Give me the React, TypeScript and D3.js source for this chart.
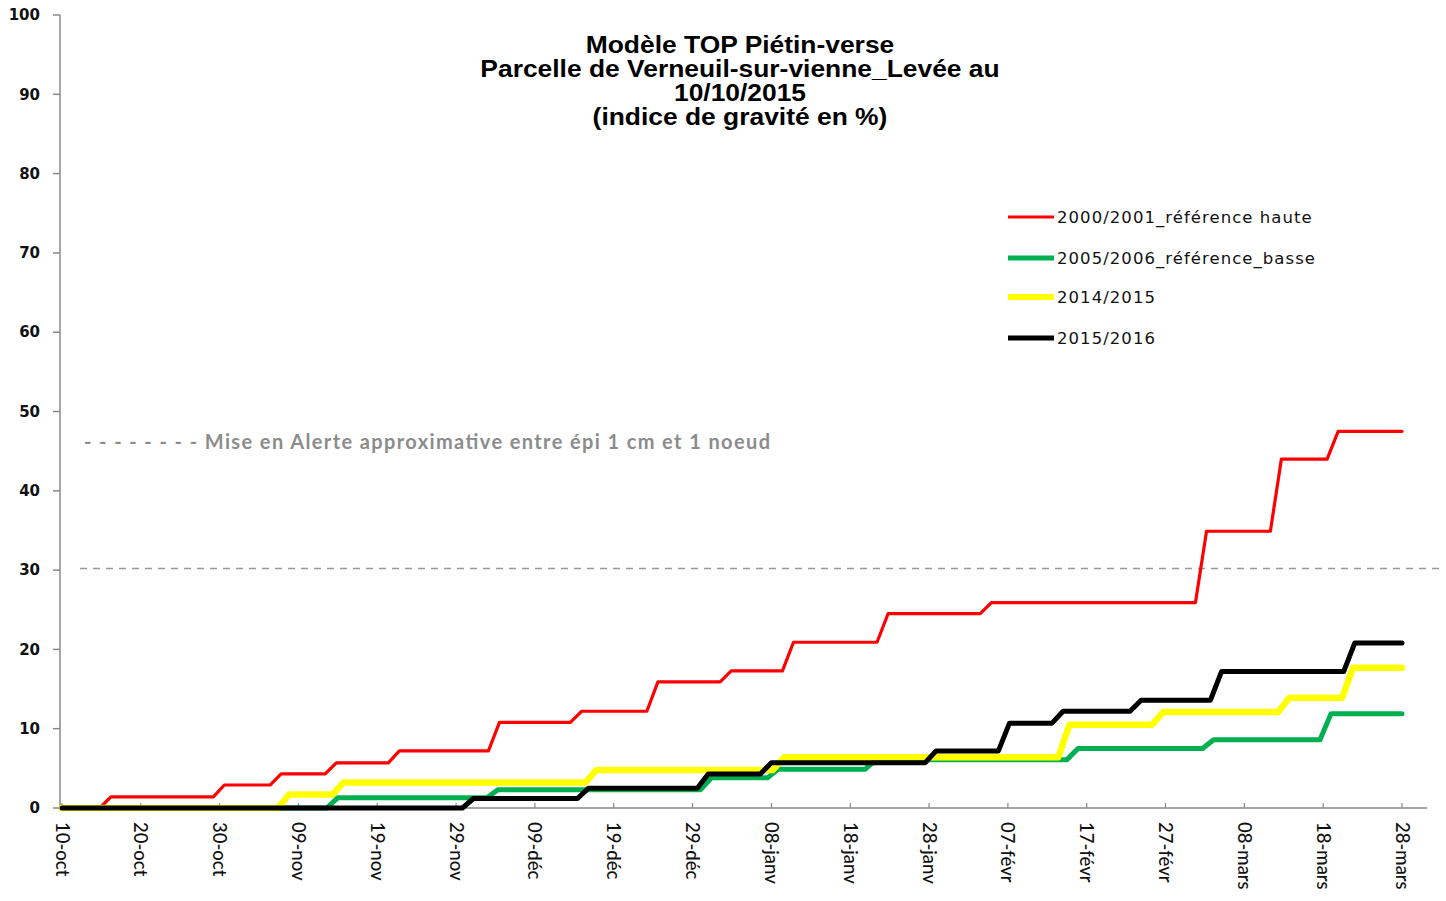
import React from "react";
import * as d3 from "d3";

const W = 1446;
const H = 901;

// Tick labels (every 10 days from 10-oct-2015 to 28-mars-2016)
const xTickLabels = [
  "10-oct", "20-oct", "30-oct", "09-nov", "19-nov", "29-nov", "09-déc", "19-déc", "29-déc",
  "08-janv", "18-janv", "28-janv", "07-févr", "17-févr", "27-févr", "08-mars", "18-mars", "28-mars",
];
const yTicks = [0, 10, 20, 30, 40, 50, 60, 70, 80, 90, 100];

const titleLines = [
  "Modèle TOP Piétin-verse",
  "Parcelle de Verneuil-sur-vienne_Levée au",
  "10/10/2015",
  "(indice de gravité en %)",
];

// Days since 10-oct at which each step begins, and the value reached after the step
const redStepDays = [4.8, 19.2, 26.4, 33.4, 41.4, 54.1, 64.5, 74.2, 83.5, 91.4, 103.4, 116.5, 143.8, 153.3, 160.5];
const redLevels = [1.4, 2.9, 4.3, 5.7, 7.2, 10.8, 12.2, 15.9, 17.3, 20.9, 24.5, 25.9, 34.9, 44.0, 47.5];

const greenStepDays = [33.6, 53.9, 81.0, 89.5, 101.9, 127.5, 144.7, 159.6];
const greenLevels = [1.3, 2.3, 3.8, 4.9, 6.1, 7.5, 8.6, 11.9];

const yellowStepDays = [27.4, 34.3, 66.4, 90.2, 126.4, 138.3, 154.3, 162.4];
const yellowLevels = [1.7, 3.2, 4.8, 6.4, 10.5, 12.1, 13.9, 17.7];

const blackStepDays = [50.8, 65.4, 80.6, 88.6, 109.5, 118.8, 125.6, 135.5, 145.7, 162.6];
const blackLevels = [1.2, 2.5, 4.3, 5.7, 7.2, 10.7, 12.2, 13.6, 17.2, 20.8];

const lastDay = 170;
const alertLevel = 30.2;

const seriesNames = [
  "2000/2001_référence haute",
  "2005/2006_référence_basse",
  "2014/2015",
  "2015/2016",
];

type Pt = [number, number];

function buildSteps(days: number[], levels: number[], ramp: number): Pt[] {
  const pts: Pt[] = [[0, 0]];
  let prev = 0;
  days.forEach((d, i) => {
    pts.push([d, prev]);
    pts.push([d + ramp, levels[i]]);
    prev = levels[i];
  });
  pts.push([lastDay, prev]);
  return pts;
}

export default function App() {
  const left = 60;
  const x0 = 62;
  const x1 = 1402;
  const yTop = 15;
  const yBottom = 808;
  const axisEnd = 1427;

  const x = d3.scaleLinear().domain([0, 170]).range([x0, x1]);
  const y = d3.scaleLinear().domain([0, 100]).range([yBottom, yTop]);

  const line = d3
    .line<Pt>()
    .x((d) => x(d[0]))
    .y((d) => y(d[1]));

  const series = [
    { name: seriesNames[0], color: "#ff0000", width: 3.2, legendWidth: 3, pts: buildSteps(redStepDays, redLevels, 1.4) },
    { name: seriesNames[1], color: "#00b050", width: 5, legendWidth: 5, pts: buildSteps(greenStepDays, greenLevels, 1.4) },
    { name: seriesNames[2], color: "#ffff00", width: 6.5, legendWidth: 6, pts: buildSteps(yellowStepDays, yellowLevels, 1.4) },
    { name: seriesNames[3], color: "#000000", width: 5, legendWidth: 5, pts: buildSteps(blackStepDays, blackLevels, 1.4) },
  ];

  const legendY = [217, 258, 297, 338];

  return (
    <svg
      width={W}
      height={H}
      style={{ position: "absolute", left: 0, top: 0, background: "#fff" }}
      xmlns="http://www.w3.org/2000/svg"
    >
      <rect x={0} y={0} width={W} height={H} fill="#fff" />

      {/* Title */}
      <g
        transform="translate(740,0) scale(1.1,1)"
        fontFamily="'Liberation Sans', Arial, sans-serif"
        fontWeight="bold"
        fontSize={24}
        fill="#000"
        textAnchor="middle"
      >
        {titleLines.map((t, i) => (
          <text key={i} x={0} y={53 + i * 24}>
            {t}
          </text>
        ))}
      </g>

      {/* Y axis */}
      <line x1={left} x2={left} y1={yTop} y2={yBottom} stroke="#888" strokeWidth={1.5} />
      {yTicks.map((v) => (
        <g key={v}>
          <line x1={left - 7} x2={left} y1={y(v)} y2={y(v)} stroke="#888" strokeWidth={1.5} />
          <text
            x={40}
            y={y(v)}
            dy="0.35em"
            textAnchor="end"
            fontFamily="'DejaVu Sans', Verdana, sans-serif"
            fontWeight="bold"
            fontSize={15}
            fill="#111"
          >
            {v}
          </text>
        </g>
      ))}

      {/* X axis */}
      <line x1={left} x2={axisEnd} y1={yBottom} y2={yBottom} stroke="#888" strokeWidth={1.5} />
      {xTickLabels.map((lab, i) => {
        const xx = x(i * 10);
        return (
          <g key={lab}>
            <line x1={xx} x2={xx} y1={yBottom - 5} y2={yBottom} stroke="#888" strokeWidth={1.2} />
            <text
              transform={`translate(${xx},${822}) rotate(90)`}
              dy="0.35em"
              textAnchor="start"
              fontFamily="Lato, 'Open Sans', sans-serif"
              fontSize={18.5}
              fontWeight={500}
              fill="#111"
            >
              {lab}
            </text>
          </g>
        );
      })}

      {/* Alert threshold dashed line */}
      <line
        x1={80}
        x2={1440}
        y1={y(alertLevel)}
        y2={y(alertLevel)}
        stroke="#999"
        strokeWidth={1.5}
        strokeDasharray="7 6"
      />
      <text
        x={84}
        y={449}
        fontFamily="Lato, sans-serif"
        fontWeight="bold"
        fontSize={20}
        fill="#8c8c8c"
        textLength={686}
        lengthAdjust="spacing"
      >
        - - - - - - - - Mise en Alerte approximative entre épi 1 cm et 1 noeud
      </text>

      {/* Series */}
      {series.map((s) => (
        <path
          key={s.name}
          d={line(s.pts) || ""}
          fill="none"
          stroke={s.color}
          strokeWidth={s.width}
          strokeLinejoin="round"
          strokeLinecap="round"
        />
      ))}

      {/* Legend */}
      {series.map((s, i) => (
        <g key={s.name}>
          <line x1={1008} x2={1054} y1={legendY[i]} y2={legendY[i]} stroke={s.color} strokeWidth={s.legendWidth} />
          <text
            x={1057}
            y={legendY[i]}
            dy="0.36em"
            fontFamily="'DejaVu Sans', sans-serif"
            fontSize={16.5}
            letterSpacing={1.05}
            fill="#111"
          >
            {s.name}
          </text>
        </g>
      ))}
    </svg>
  );
}
